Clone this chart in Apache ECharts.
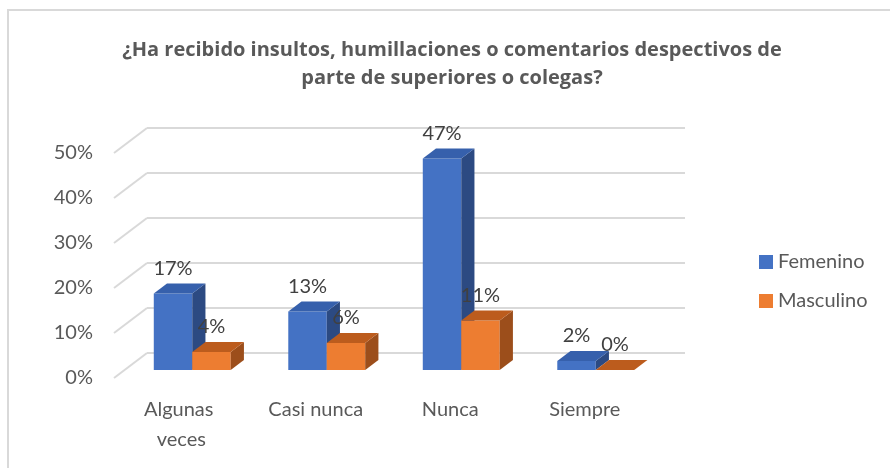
<!DOCTYPE html>
<html>
<head>
<meta charset="utf-8">
<script src="https://cdn.jsdelivr.net/npm/echarts@6/dist/echarts.min.js"></script>
<style>
  html, body { margin: 0; padding: 0; background: #fff; }
  #chart { width: 890px; height: 468px; }
</style>
</head>
<body>
<div id="chart"></div>
<script>
// data
const categories = ['Algunas veces', 'Casi nunca', 'Nunca', 'Siempre'];
const femenino = [17, 13, 47, 2];
const masculino = [4, 6, 11, 0];
const yTicks = [0, 10, 20, 30, 40, 50];

const FONT = 'Lato';
// oblique offset for the depth of a bar (back face vs front face)
const DX = 13.2, DY = -10;

const palette = {
  Femenino: { front: '#4472C4', top: '#3660AC', side: '#2C4A82' },
  Masculino: { front: '#ED7D31', top: '#BC5C1D', side: '#9C4E1B' }
};

function barItem(name, left) {
  const c = palette[name];
  return function (params, api) {
    const i = api.value(0);
    const v = api.value(1);
    const base = api.coord([i, 0]);
    const top = api.coord([i, v]);
    const band = api.size([1, 0])[0];
    const w = band * 0.286;
    const x0 = left ? base[0] - w : base[0];
    const ty = top[1], by = base[1];
    return {
      type: 'group',
      children: [
        { type: 'rect', shape: { x: x0, y: ty, width: w, height: by - ty },
          style: { fill: c.front } },
        { type: 'polygon', shape: { points: [[x0 + w, ty], [x0 + w + DX, ty + DY], [x0 + w + DX, by + DY], [x0 + w, by]] },
          style: { fill: c.side } },
        { type: 'polygon', shape: { points: [[x0, ty], [x0 + w, ty], [x0 + w + DX, ty + DY], [x0 + DX, ty + DY]] },
          style: { fill: c.top } },
        { type: 'text', x: x0 + w / 2, y: ty - 25,
          style: { text: v + '%', fill: '#404040', font: '20px ' + FONT, align: 'center', verticalAlign: 'middle' } }
      ]
    };
  };
}

const chart = echarts.init(document.getElementById('chart'));
chart.setOption({
  animation: false,
  backgroundColor: '#fff',
  title: {
    text: '¿Ha recibido insultos, humillaciones o comentarios despectivos de\nparte de superiores o colegas?',
    left: 447, top: 31, textAlign: 'center',
    textStyle: { fontFamily: 'Open Sans', fontSize: 20, fontWeight: 'bold', color: '#595959', lineHeight: 28 }
  },
  legend: {
    orient: 'vertical', left: 754, top: 247, itemGap: 19,
    itemWidth: 14, itemHeight: 14, icon: 'rect',
    textStyle: { fontFamily: FONT, fontSize: 20, color: '#595959' },
    data: ['Femenino', 'Masculino']
  },
  graphic: [{
    type: 'rect', shape: { x: 8, y: 10, width: 900, height: 480 },
    style: { fill: 'none', stroke: '#d9d9d9', lineWidth: 2 }, z: -10
  }],
  grid: [
    // back wall
    { left: 147, right: 205, top: 128, bottom: 115 },
    // bar front plane
    { left: 125, right: 227, top: 145, bottom: 98 },
    // floor front edge (labels)
    { left: 114, right: 238, top: 153, bottom: 90 }
  ],
  xAxis: [
    { gridIndex: 0, type: 'category', data: categories, show: false },
    { gridIndex: 1, type: 'category', data: categories, show: false },
    { gridIndex: 2, type: 'category', data: categories,
      axisLine: { show: false }, axisTick: { show: false },
      axisLabel: { interval: 0, margin: 17, fontFamily: FONT, fontSize: 20, color: '#595959',
        lineHeight: 30, width: 112, overflow: 'break' } }
  ],
  yAxis: [
    { gridIndex: 0, type: 'value', min: 0, max: 50, interval: 10,
      axisLine: { show: false }, axisTick: { show: false }, axisLabel: { show: false },
      splitLine: { lineStyle: { color: '#d9d9d9', width: 2 } } },
    { gridIndex: 1, type: 'value', min: 0, max: 50, interval: 10, show: false, splitLine: { show: false } },
    { gridIndex: 2, type: 'value', min: 0, max: 50, interval: 10,
      axisLine: { show: false }, axisTick: { show: false }, splitLine: { show: false },
      axisLabel: { margin: 21, formatter: '{value}%', fontFamily: FONT, fontSize: 20, color: '#595959' } }
  ],
  series: [
    {
      // floor side lines from the back wall toward the front
      type: 'custom', xAxisIndex: 0, yAxisIndex: 0, silent: true,
      data: yTicks.map(v => [0, v]),
      renderItem: function (params, api) {
        const y = api.coord([0, api.value(1)])[1];
        const x = params.coordSys.x;
        return { type: 'line', shape: { x1: x, y1: y, x2: x - 33, y2: y + 25 },
          style: { stroke: '#d9d9d9', lineWidth: 2 } };
      }
    },
    {
      name: 'Femenino', type: 'custom', xAxisIndex: 1, yAxisIndex: 1,
      itemStyle: { color: palette.Femenino.front },
      data: femenino.map((v, i) => [i, v]),
      renderItem: barItem('Femenino', true), z: 3
    },
    {
      name: 'Masculino', type: 'custom', xAxisIndex: 1, yAxisIndex: 1,
      itemStyle: { color: palette.Masculino.front },
      data: masculino.map((v, i) => [i, v]),
      renderItem: barItem('Masculino', false), z: 4
    }
  ]
});
</script>
</body>
</html>
